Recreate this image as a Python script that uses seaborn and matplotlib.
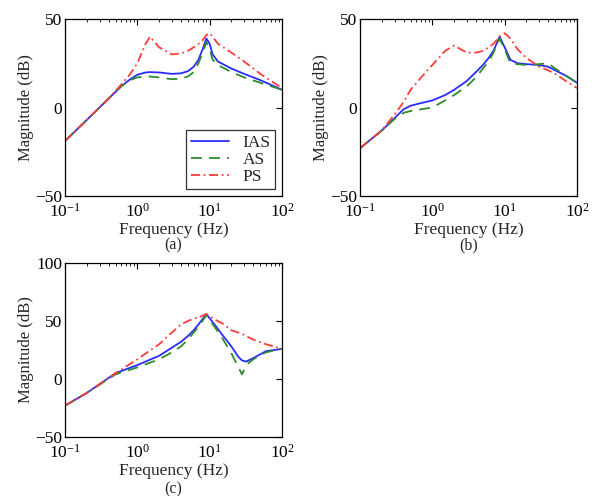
import matplotlib
matplotlib.use("Agg")
import matplotlib.pyplot as plt
import matplotlib.ticker as mticker
import numpy as np
import pandas as pd
import seaborn as sns

# panel (a)
freq_a = [0.1, 0.2, 0.4, 0.6, 0.8, 1.0, 1.3, 1.5, 2.0, 3.0, 4.0, 5.0, 6.0, 7.0, 8.0, 9.0, 10.0, 11.0, 13.0, 20.0, 30.0, 50.0, 100.0]
ias_a = [-19, -7, 5, 12, 16, 18.5, 19.8, 20, 19.8, 19, 19.3, 20.5, 23, 27, 33, 39, 36, 30, 26, 22, 19, 15.5, 10]
as_a = [-19, -7, 5, 12, 15.5, 17, 17.5, 17.5, 17, 16, 16.3, 17.5, 20, 25, 31, 37, 33, 27, 24, 20, 17, 14, 10]
ps_a = [-19, -7, 5, 13, 19, 25, 36, 40, 34, 30, 30.5, 32, 34, 36, 38, 41, 42, 40, 36, 31, 26, 19, 11]

# panel (b)
freq_b = [0.1, 0.2, 0.3, 0.4, 0.5, 0.7, 1.0, 1.5, 2.0, 3.0, 4.0, 5.0, 6.0, 7.0, 8.5, 10.0, 12.0, 15.0, 20.0, 30.0, 40.0, 50.0, 70.0, 100.0]
ias_b = [-23, -13, -6, -1, 1, 2.5, 4, 7, 10, 15, 20, 24, 28, 32, 40, 34, 27, 25, 24.5, 24, 23, 21, 18, 14]
as_b = [-23, -13, -6.5, -3, -2, -1, 0, 4, 7, 12, 17, 22, 26, 31, 39, 33, 25, 24.5, 24, 24.5, 25, 22, 18, 14]
ps_b = [-23, -13, -4, 3, 10, 17, 24, 32, 35, 31, 31, 32, 34, 36, 40, 42, 39, 33, 28, 23, 21, 19, 15, 11]

# panel (c)
freq_c = [0.1, 0.2, 0.5, 1.0, 2.0, 3.0, 4.0, 5.0, 6.0, 7.0, 9.0, 12.0, 15.0, 20.0, 25.0, 28.0, 32.0, 40.0, 60.0, 100.0]
ias_c = [-23, -12, 5, 12, 20, 27, 32, 37, 42, 47, 56, 46, 38, 28, 19, 16, 15, 18, 24, 26]
as_c = [-23, -12, 4, 10, 17, 23, 28, 34, 40, 45, 55, 44, 35, 22, 10, 4, 12, 17, 23, 26]
ps_c = [-23, -12, 5, 17, 30, 40, 47, 50, 52, 53, 56, 51, 48, 42, 40, 39, 37, 34, 30, 26]

panels = [
    ("(a)", freq_a, ias_a, as_a, ps_a, (-50, 50), [-50, 0, 50]),
    ("(b)", freq_b, ias_b, as_b, ps_b, (-50, 50), [-50, 0, 50]),
    ("(c)", freq_c, ias_c, as_c, ps_c, (-50, 100), [-50, 0, 50, 100]),
]

sns.set_theme(style="white")
plt.rcParams["font.family"] = ["Liberation Serif", "DejaVu Serif"]
plt.rcParams["mathtext.fontset"] = "stix"
plt.rcParams["axes.unicode_minus"] = True

fig = plt.figure(figsize=(5.95, 4.96), dpi=100)
W, H = 595, 496
boxes = [(65, 19, 282, 196), (360, 19, 577, 196), (65, 263, 282, 437)]
tag_y = [245, 245, 489]

styles = {
    "IAS": dict(color="#2b2bff", linestyle="-"),
    "AS": dict(color="#2e8b2e", linestyle=(0, (6, 4))),
    "PS": dict(color="#ff3b3b", linestyle=(0, (5, 2, 1, 2))),
}

for (tag, f, ias, ass, ps, ylim, yt), (x0, y0, x1, y1), ty in zip(panels, boxes, tag_y):
    ax = fig.add_axes([x0 / W, 1 - y1 / H, (x1 - x0) / W, (y1 - y0) / H])
    df = pd.DataFrame({"freq": f, "IAS": ias, "AS": ass, "PS": ps})
    for name in ["IAS", "AS", "PS"]:
        sns.lineplot(data=df, x="freq", y=name, ax=ax, label=name,
                     linewidth=1.3, **styles[name])
    ax.set_xscale("log")
    ax.set_xlim(0.1, 100)
    ax.set_ylim(*ylim)
    ax.set_yticks(yt)
    ax.xaxis.set_major_formatter(mticker.LogFormatterMathtext())
    ax.xaxis.set_minor_locator(mticker.LogLocator(subs=np.arange(2, 10)))
    ax.tick_params(which="both", direction="in", top=True, right=True,
                   labelsize=12.5, colors="black")
    ax.tick_params(axis="x", which="major", pad=5)
    ax.tick_params(axis="y", which="major", pad=2)
    ax.tick_params(which="major", length=4, width=0.8)
    ax.tick_params(which="minor", length=2, width=0.6)
    for s in ax.spines.values():
        s.set_color("black")
        s.set_linewidth(0.9)
    ax.set_xlabel("Frequency (Hz)", fontsize=12.5, labelpad=1)
    ax.set_ylabel("Magnitude (dB)", fontsize=12, labelpad=1)
    fig.text((x0 + x1) / 2 / W, 1 - ty / H, tag, ha="center", va="center",
             fontsize=11.5)
    if tag == "(a)":
        leg = ax.legend(loc="lower right", fontsize=12.5, frameon=True,
                        fancybox=False, handlelength=2.2, borderpad=0.25,
                        labelspacing=0.05, borderaxespad=0.4)
        leg.get_frame().set_edgecolor("black")
        leg.get_frame().set_linewidth(0.9)
    else:
        ax.get_legend().remove()

fig.savefig("out.png", dpi=100)
